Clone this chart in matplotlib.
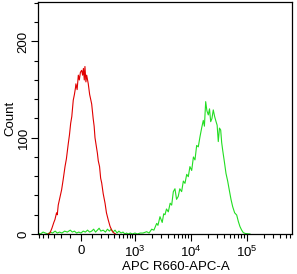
#!/usr/bin/env python3

import numpy as np
import matplotlib
matplotlib.use('Agg')
import matplotlib.pyplot as plt

# red histogram (isotype / unstained): fluorescence value, count
red_x = [-400, -363, -330, -300, -283, -260, -250, -237, -215, -194, -175, -155,
         -140, -120, -108, -96, -85, -71, -60, -50, -46, -35, -24, -15, -5, 6,
         15, 22, 30, 36, 45, 52, 67, 80, 90, 100, 115, 125, 134, 150, 160, 170,
         185, 198, 211, 230, 255, 275, 302, 330, 358, 380, 400, 430]
red_y = [0, 1, 6, 12, 15, 22, 20, 30, 38, 46, 57, 70,
         78, 94, 103, 115, 122, 139, 145, 152, 156, 150, 165, 160, 168, 170,
         165, 172, 160, 174, 158, 165, 156, 145, 140, 135, 120, 112, 100, 90, 84, 76,
         70, 58, 53, 42, 32, 22, 14.5, 8, 4, 2, 1, 0]

# green histogram (stained sample)
green_x = [-620, -560, -500, -450, -400, -360, -320, -280, -250, -220, -190, -160,
           -130, -100, -80, -60, -40, -20, 0, 20, 40, 60, 80, 100, 120, 140, 160,
           180, 200, 230, 260, 290, 320, 350, 380, 420, 460, 500, 550, 600, 650,
           700, 750, 820, 900, 1000, 1100, 1250, 1400, 1633, 1800, 2009, 2200,
           2468, 2600, 2829, 3100, 3300, 3476, 3700, 3983, 4300, 4580, 4900, 5240,
           5600, 6000, 6400, 6900, 7400, 7915, 8500, 9070, 9700, 10430, 11200,
           11940, 12800, 13680, 14670, 15700, 16800, 17600, 18550, 19500, 20650,
           21700, 22780, 24000, 25340, 26800, 28320, 29700, 31130, 32700, 34370,
           35800, 37320, 40000, 42720, 45800, 48930, 52500, 56270, 61000, 66380,
           71000, 76030, 81500, 87100, 95000, 114700]
green_y = [1, 0, 2, 1, 0, 2, 1, 3, 1, 2, 1, 3,
           2, 4, 2, 3, 1, 2, 1, 3, 2, 4, 2, 3, 5, 2, 4,
           6, 3, 4, 2, 5, 3, 5, 2, 4, 1, 3, 1, 2, 0,
           1, 0, 1, 0, 1, 0, 1, 1, 2.4, 1, 5, 4,
           11, 9, 18, 12, 21, 20, 26, 23, 32, 30, 44, 47,
           36, 39, 47, 44, 55, 52.6, 62, 59.5, 70, 66, 80,
           77, 92, 90.5, 101, 110, 118, 112, 137.5, 128, 123.7,
           130, 116.7, 120, 128.9, 122, 117, 113, 96, 110, 108,
           95, 87, 75, 63, 55, 45.7, 36, 28.4, 22, 19.7,
           13, 7.6, 4, 1.4, 0.5, 0]

major_ticks = [0, 1e3, 1e4, 1e5]
major_labels = ['0', r'$\mathregular{10^3}$', r'$\mathregular{10^4}$', r'$\mathregular{10^5}$']
minor_ticks = ([-600, -500, -400, -300, -200, -100]
               + list(range(100, 1000, 100))
               + [k * 1e3 for k in range(2, 10)]
               + [k * 1e4 for k in range(2, 10)]
               + [k * 1e5 for k in range(2, 7)])

W = 220.0


def fwd(v):
    return np.arcsinh(np.asarray(v, dtype=float) / W) / np.log(10)


def inv(u):
    return W * np.sinh(np.asarray(u, dtype=float) * np.log(10))


plt.rcParams['font.family'] = ['Liberation Sans', 'DejaVu Sans']
plt.rcParams['font.size'] = 9.5

fig = plt.figure(figsize=(2.97, 2.74), dpi=100)
ax = fig.add_axes([38 / 297, 40 / 274, 254 / 297, 232 / 274])
ax.set_xscale('function', functions=(fwd, inv))

ax.plot(green_x, green_y, color='#22dd22', lw=0.8)
ax.plot(red_x, red_y, color='#e00000', lw=0.8)

ax.set_xlim(-625, 645000)
ax.set_ylim(0, 241)

ax.set_xticks(major_ticks)
ax.set_xticklabels(major_labels)
ax.set_xticks(minor_ticks, minor=True)
ax.set_xticklabels([], minor=True)
ax.set_yticks([0, 100, 200])
ax.set_yticks(list(range(20, 241, 20)), minor=True)
for lab in ax.get_yticklabels():
    lab.set_rotation(90)
    lab.set_va('center')

ax.tick_params(which='major', direction='out', length=5, width=0.8, pad=1)
ax.tick_params(which='minor', direction='out', length=3, width=0.8)
ax.tick_params(axis='x', which='major', pad=3)
for s in ax.spines.values():
    s.set_linewidth(0.9)

# x label sits a bit right of the axes centre in the reference
fig.text(176 / 297, 4 / 274, 'APC R660-APC-A', ha='center', va='baseline')
ax.set_ylabel('Count', labelpad=1)

fig.savefig('out.png', dpi=100)
